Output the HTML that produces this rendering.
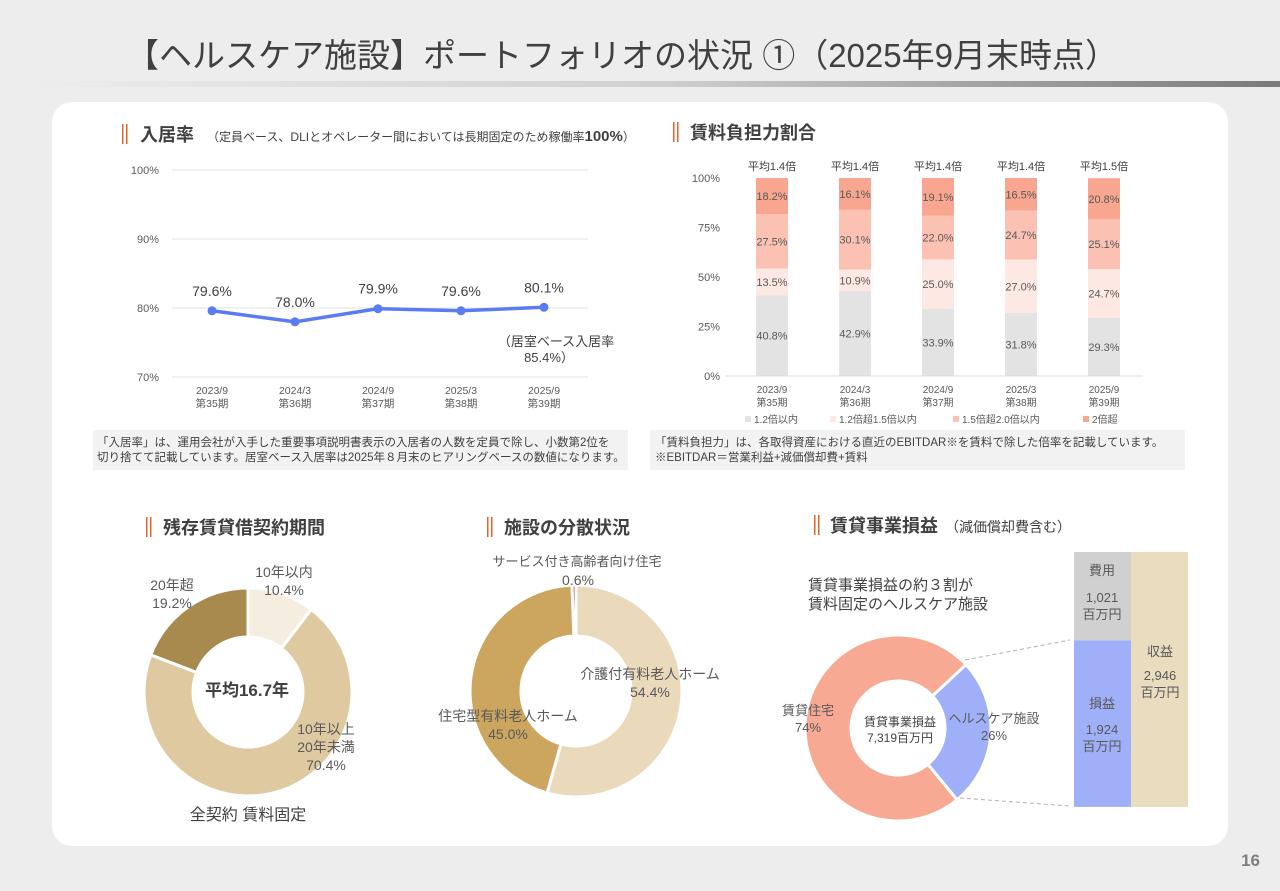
<!DOCTYPE html>
<html><head><meta charset="utf-8"><style>
body{margin:0;width:1280px;height:886px;overflow:hidden;background:#ededed;font-family:"Liberation Sans","Noto Sans CJK JP",sans-serif}
svg text{font-family:"Liberation Sans","Noto Sans CJK JP",sans-serif}
</style></head><body>
<svg id="s" width="1280" height="886" viewBox="0 0 1280 886" xmlns="http://www.w3.org/2000/svg">
<defs><linearGradient id="g" x1="0" x2="1"><stop offset="0" stop-color="#ededed"/><stop offset="0.5" stop-color="#d0d0d0"/><stop offset="1" stop-color="#7a7a7a"/></linearGradient></defs>
<rect width="1280" height="886" fill="#ededed"/>
<text x="622" y="67" text-anchor="middle" font-size="33" fill="#404040">【ヘルスケア施設】ポートフォリオの状況 ①（2025年9月末時点）</text>
<rect x="30" y="81" width="1250" height="6" fill="url(#g)"/>
<rect x="52" y="102" width="1176" height="744" rx="20" fill="#fff"/>
<text x="1260" y="866" text-anchor="end" font-size="17" font-weight="bold" fill="#7f7f7f">16</text>

<g>
<rect x="122" y="124" width="1.5" height="20" fill="#e2632e"/><rect x="126" y="124" width="1.5" height="20" fill="#e2632e"/>
<text x="140" y="141" font-size="18" font-weight="bold" fill="#404040">入居率</text>
<text x="207" y="141" font-size="12" fill="#404040">（定員ベース、DLIとオペレーター間においては長期固定のため稼働率<tspan font-weight="bold" font-size="15">100%</tspan>）</text>
</g>
<g>
<rect x="673" y="122" width="1.5" height="20" fill="#e2632e"/><rect x="677" y="122" width="1.5" height="20" fill="#e2632e"/>
<text x="690" y="139" font-size="18" font-weight="bold" fill="#404040">賃料負担力割合</text>
</g>
<g id="line"></g>
<rect x="93" y="430" width="535" height="40" fill="#f2f2f2"/>
<text x="97" y="446" font-size="11.5" fill="#404040">「入居率」は、運用会社が入手した重要事項説明書表示の入居者の人数を定員で除し、小数第2位を</text>
<text x="97" y="461" font-size="11.5" fill="#404040">切り捨てて記載しています。居室ベース入居率は2025年８月末のヒアリングベースの数値になります。</text>
<g id="bars"></g>
<rect x="650" y="430" width="535" height="40" fill="#f2f2f2"/>
<text x="655" y="446" font-size="11.5" fill="#404040">「賃料負担力」は、各取得資産における直近のEBITDAR※を賃料で除した倍率を記載しています。</text>
<text x="655" y="461" font-size="11.5" fill="#404040">※EBITDAR＝営業利益+減価償却費+賃料</text>

<g>
<rect x="146" y="517" width="1.5" height="20" fill="#e2632e"/><rect x="150" y="517" width="1.5" height="20" fill="#e2632e"/>
<text x="163" y="534" font-size="18" font-weight="bold" fill="#404040">残存賃貸借契約期間</text></g>
<g>
<rect x="487" y="517" width="1.5" height="20" fill="#e2632e"/><rect x="491" y="517" width="1.5" height="20" fill="#e2632e"/>
<text x="504" y="534" font-size="18" font-weight="bold" fill="#404040">施設の分散状況</text></g>
<g>
<rect x="814" y="515" width="1.5" height="20" fill="#e2632e"/><rect x="818" y="515" width="1.5" height="20" fill="#e2632e"/>
<text x="830" y="532" font-size="18" font-weight="bold" fill="#404040">賃貸事業損益</text>
<text x="945" y="532" font-size="14" fill="#404040">（減価償却費含む）</text></g>
<g id="d1"></g>
<g id="d2"></g>
<g id="d3"></g>
<g id="pb"></g>
</svg>
<script>
const NS="http://www.w3.org/2000/svg";
function mk(p,t,a,txt){const e=document.createElementNS(NS,t);for(const k in a)e.setAttribute(k,a[k]);if(txt!==undefined)e.textContent=txt;p.appendChild(e);return e;}
// ---- occupancy line chart data
const occCats=["2023/9","2024/3","2024/9","2025/3","2025/9"];
const occPeriods=["第35期","第36期","第37期","第38期","第39期"];
const occValues=[79.6,78.0,79.9,79.6,80.1];
const occTicks=[70,80,90,100];
// ---- rent burden data
const rbCats=["2023/9","2024/3","2024/9","2025/3","2025/9"];
const rbPeriods=["第35期","第36期","第37期","第38期","第39期"];
const rbAvg=["平均1.4倍","平均1.4倍","平均1.4倍","平均1.4倍","平均1.5倍"];
const rbS1=[40.8,42.9,33.9,31.8,29.3];
const rbS2=[13.5,10.9,25.0,27.0,24.7];
const rbS3=[27.5,30.1,22.0,24.7,25.1];
const rbS4=[18.2,16.1,19.1,16.5,20.8];
const rbSeriesNames=["1.2倍以内","1.2倍超1.5倍以内","1.5倍超2.0倍以内","2倍超"];
const rbTicks=[0,25,50,75,100];
// ---- donuts
const leaseLabels=["10年以内","10年以上20年未満","20年超"];
const leaseValues=[10.4,70.4,19.2];
const typeLabels=["介護付有料老人ホーム","住宅型有料老人ホーム","サービス付き高齢者向け住宅"];
const typeValues=[54.4,45.0,0.6];
const profitLabels=["ヘルスケア施設","賃貸住宅"];
const profitValues=[26,74];
const barCost=[1021], barProfit=[1924], barRevenue=[2946];

// line chart
(function(){
 const g=document.getElementById('line');
 const y=v=>377-(v-70)*207/30, x=i=>212+i*83;
 occTicks.forEach(t=>{const l=mk(g,'line',{x1:172,x2:588,y1:y(t),y2:y(t),stroke:'#e3e3e3','stroke-width':1});
  
  
  const tx=mk(g,'text',{x:159,y:y(t)+4,'text-anchor':'end','font-size':11,fill:'#595959'},t+'%');
  
  });
 let d=occValues.map((v,i)=>(i?'L':'M')+x(i)+','+y(v)).join('');
 const p=mk(g,'path',{d:d,fill:'none',stroke:'#5b7bf0','stroke-width':3.5});
 
 
 occValues.forEach((v,i)=>{const c=mk(g,'circle',{cx:x(i),cy:y(v),r:4.5,fill:'#5b7bf0'});
  
  
  const t=mk(g,'text',{x:x(i),y:y(v)-15,'text-anchor':'middle','font-size':14,fill:'#404040'},v.toFixed(1)+'%');
  
  
  const a=mk(g,'text',{x:x(i),y:394,'text-anchor':'middle','font-size':10.5,fill:'#595959'},occCats[i]);
  
  
  const b=mk(g,'text',{x:x(i),y:407,'text-anchor':'middle','font-size':10.5,fill:'#595959'},occPeriods[i]);
  
  });
 const n=mk(g,'text',{x:556,y:346,'text-anchor':'middle','font-size':13,fill:'#404040'},'（居室ベース入居率');
 
 
 const n2=mk(g,'text',{x:549,y:362,'text-anchor':'middle','font-size':13,fill:'#404040'},'85.4%）');
 
 
})();

// stacked bars
(function(){
 const g=document.getElementById('bars');
 const y=v=>376-v*198/100, x=i=>772+i*83, w=32;
 const cols=['#e3e3e3','#fde8e4','#fbc2b4','#f8a68f'];
 const series=[rbS1,rbS2,rbS3,rbS4];
 rbTicks.forEach(t=>{const tx=mk(g,'text',{x:720,y:y(t)+4,'text-anchor':'end','font-size':11,fill:'#595959'},t+'%');
  
  });
 rbCats.forEach((c,i)=>{let base=0;
  series.forEach((s,k)=>{const v=s[i];
   const r=mk(g,'rect',{x:x(i)-w/2,y:y(base+v),width:w,height:v*198/100,fill:cols[k]});
   
   
   const t=mk(g,'text',{x:x(i),y:y(base+v/2)+4,'text-anchor':'middle','font-size':11,fill:'#595959'},v.toFixed(1)+'%');
   
   
   base+=v;});
  const a=mk(g,'text',{x:x(i),y:170,'text-anchor':'middle','font-size':11,fill:'#404040'},rbAvg[i]);
  
  
  const b=mk(g,'text',{x:x(i),y:393,'text-anchor':'middle','font-size':10,fill:'#595959'},c);
  
  
  const p=mk(g,'text',{x:x(i),y:406,'text-anchor':'middle','font-size':10,fill:'#595959'},rbPeriods[i]);
  
  });
 const ax=mk(g,'line',{x1:725,x2:1143,y1:376,y2:376,stroke:'#d9d9d9'});
 
 
 const lx=[745,830,953,1083];
 rbSeriesNames.forEach((n,k)=>{const r=mk(g,'rect',{x:lx[k],y:416,width:6,height:6,fill:cols[k]});
  
  
  const t=mk(g,'text',{x:lx[k]+9,y:423,'font-size':10,fill:'#595959'},n);
  
  });
})();

function donut(g,cx,cy,ro,ri,vals,cols,start){
 let a=start*Math.PI/180;const tot=vals.reduce((p,c)=>p+c,0);
 const pt=(r,t)=>[cx+r*Math.sin(t),cy-r*Math.cos(t)];
 vals.forEach((v,i)=>{const b=a+v/tot*2*Math.PI;const L=(b-a)>Math.PI?1:0;
  const p1=pt(ro,a),p2=pt(ro,b),p3=pt(ri,b),p4=pt(ri,a);
  const p=mk(g,'path',{d:`M${p1}A${ro},${ro} 0 ${L} 1 ${p2}L${p3}A${ri},${ri} 0 ${L} 0 ${p4}Z`,fill:cols[i],stroke:'#fff','stroke-width':3});
  
  
  a=b;});
}
function lbl(g,x,y,lines,fs,opt){lines.forEach((s,i)=>{const t=mk(g,'text',Object.assign({x:x,y:y+i*(fs+4),'text-anchor':'middle','font-size':fs,fill:'#595959'},opt||{}),s);
 
 });}
(function(){
 const g=document.getElementById('d1');
 donut(g,248,692,104,55,leaseValues,['#f5ede0','#dfc9a0','#a88a4e'],0);
 lbl(g,284,577,['10年以内',leaseValues[0].toFixed(1)+'%'],14);
 lbl(g,326,734,['10年以上','20年未満',leaseValues[1].toFixed(1)+'%'],14);
 lbl(g,172,590,['20年超',leaseValues[2].toFixed(1)+'%'],14);
 lbl(g,247,696,['平均16.7年'],17,{'font-weight':'bold',fill:'#404040'});
 lbl(g,248,820,['全契約 賃料固定'],16,{fill:'#404040'});
 const g2=document.getElementById('d2');
 donut(g2,576,691,106,55,typeValues,['#ead9bb','#cca55e','#c0504d'],0);
 lbl(g2,650,679,[typeLabels[0],typeValues[0].toFixed(1)+'%'],14);
 lbl(g2,508,721,[typeLabels[1],typeValues[1].toFixed(1)+'%'],14);
 lbl(g2,577,566,['サービス付き高齢者向け住宅'],13);
 lbl(g2,578,585,[typeValues[2].toFixed(1)+'%'],14);
 const g3=document.getElementById('d3');
 donut(g3,898,728,93,47,profitValues,['#9fb0f8','#f7a994'],47);
 lbl(g3,870,590,['賃貸事業損益の約３割が','賃料固定のヘルスケア施設'],15,{'text-anchor':'start',x:808,fill:'#404040'});
 lbl(g3,994,723,[profitLabels[0],profitValues[0]+'%'],13);
 lbl(g3,808,715,['賃貸住宅',profitValues[1]+'%'],13);
 lbl(g3,900,726,['賃貸事業損益','7,319百万円'],12,{fill:'#404040'});
 // profit bar
 const pb=document.getElementById('pb');
 const top=552,bot=807,h=bot-top,sc=h/barRevenue[0];
 const costH=barCost[0]*sc;
 const r1=mk(pb,'rect',{x:1074,y:top,width:57,height:costH,fill:'#d0d0d0'});
 
 
 const r2=mk(pb,'rect',{x:1074,y:top+costH,width:57,height:barProfit[0]*sc,fill:'#9fb0f8'});
 
 
 const r3=mk(pb,'rect',{x:1131,y:top,width:57,height:barRevenue[0]*sc,fill:'#e9dcbf'});
 
 
 const f=n=>n.toLocaleString('en-US');
 lbl(pb,1102,575,['費用'],13);
 lbl(pb,1102,602,[f(barCost[0]),'百万円'],13);
 lbl(pb,1102,708,['損益'],13);
 lbl(pb,1102,734,[f(barProfit[0]),'百万円'],13);
 lbl(pb,1160,656,['収益'],13);
 lbl(pb,1160,680,[f(barRevenue[0]),'百万円'],13);
 const l1=mk(pb,'line',{x1:965,y1:660,x2:1070,y2:640,stroke:'#b0b0b0','stroke-dasharray':'4,3'});
 
 
 const l2=mk(pb,'line',{x1:960,y1:798,x2:1070,y2:806,stroke:'#b0b0b0','stroke-dasharray':'4,3'});
 
 
})();
</script>
</body></html>
